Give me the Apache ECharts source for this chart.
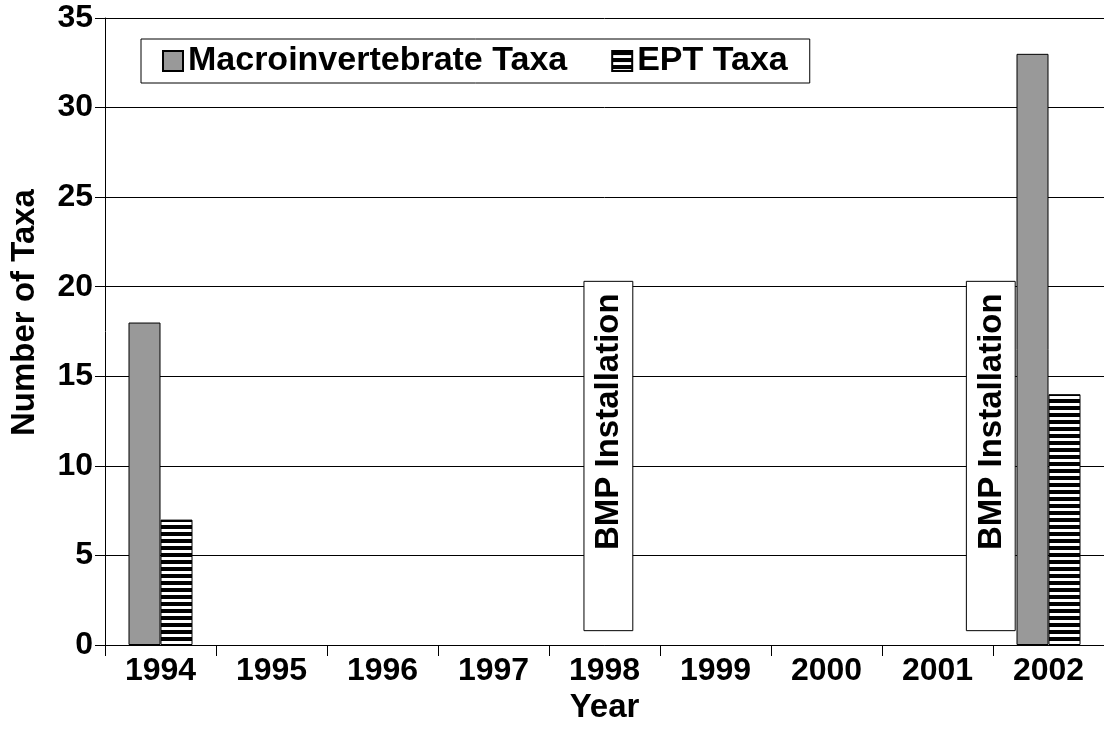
<!DOCTYPE html>
<html>
<head>
<meta charset="utf-8">
<script src="https://cdn.jsdelivr.net/npm/echarts@6/dist/echarts.min.js"></script>
<style>
  html, body { margin: 0; padding: 0; background: #fff; }
  #chart { width: 1104px; height: 748px; }
</style>
</head>
<body>
<div id="chart"></div>
<script>
const years = ['1994', '1995', '1996', '1997', '1998', '1999', '2000', '2001', '2002']
const macroTaxa = [18, null, null, null, null, null, null, null, 33]
const eptTaxa = [7, null, null, null, null, null, null, null, 14]
const bmpYears = ['1998', '2002']
const bmpLow = [0.8, 0.8]
const bmpHigh = [20.3, 20.3]

const FONT = '"Liberation Sans", Arial, sans-serif'

// horizontal stripes for the EPT bars
function stripes() {
  const c = document.createElement('canvas')
  c.width = 8
  c.height = 7
  const ctx = c.getContext('2d')
  ctx.fillStyle = '#fff'
  ctx.fillRect(0, 0, 8, 7)
  ctx.fillStyle = '#000'
  ctx.fillRect(0, 0, 8, 4)
  return c
}

// where the text boxes sit relative to their category, in band widths
const boxShift = [0.035, -0.52]

function renderBox(params, api) {
  const idx = api.value(0)
  const band = api.size([1, 0])[0]
  const top = api.coord([idx, api.value(2)])
  const bottom = api.coord([idx, api.value(1)])
  const w = band * 0.44
  const cx = top[0] + boxShift[params.dataIndex] * band
  return {
    type: 'group',
    children: [
      {
        type: 'rect',
        shape: { x: cx - w / 2, y: top[1], width: w, height: bottom[1] - top[1] },
        style: { fill: '#fff', stroke: '#000', lineWidth: 1 },
      },
      {
        type: 'text',
        x: cx + 1,
        y: top[1] + 12,
        rotation: Math.PI / 2,
        style: {
          text: 'BMP Installation',
          fill: '#000',
          font: 'bold 33px ' + FONT,
          align: 'right',
          verticalAlign: 'middle',
        },
      },
    ],
  }
}

const chart = echarts.init(document.getElementById('chart'), null, { renderer: 'canvas' })

chart.setOption({
  animation: false,
  textStyle: { fontFamily: FONT },
  grid: { left: 103, right: -3, top: 18, bottom: 103 },
  legend: {
    data: ['Macroinvertebrate Taxa', 'EPT Taxa'],
    left: 141,
    top: 39,
    padding: [5, 22, 5, 21],
    itemGap: 44,
    itemWidth: 20,
    itemHeight: 20,
    icon: 'rect',
    borderColor: '#000',
    borderWidth: 1,
    textStyle: { fontSize: 34, fontWeight: 'bold', color: '#000', fontFamily: FONT, lineHeight: 34 },
  },
  xAxis: {
    type: 'category',
    data: years,
    name: 'Year',
    nameLocation: 'middle',
    nameGap: 36,
    nameTextStyle: { fontSize: 33, fontWeight: 'bold', color: '#000' },
    axisLine: { lineStyle: { color: '#000', width: 1 } },
    axisTick: { show: true, length: 11, lineStyle: { color: '#000' } },
    axisLabel: { fontSize: 32, fontWeight: 'bold', color: '#000', margin: 10 },
  },
  yAxis: {
    type: 'value',
    min: 0,
    max: 35,
    interval: 5,
    name: 'Number of Taxa',
    nameLocation: 'middle',
    nameGap: 64,
    nameTextStyle: { fontSize: 33, fontWeight: 'bold', color: '#000', padding: [0, 0, 0, 38] },
    axisLine: { show: true, lineStyle: { color: '#000', width: 1 } },
    axisTick: { show: true, length: 10, lineStyle: { color: '#000' } },
    axisLabel: { fontSize: 32, fontWeight: 'bold', color: '#000', margin: 12 },
    splitLine: { lineStyle: { color: '#000', width: 1 } },
  },
  series: [
    {
      name: 'Macroinvertebrate Taxa',
      type: 'bar',
      data: macroTaxa,
      barWidth: 32,
      barGap: '0%',
      itemStyle: { color: '#999999', borderColor: '#000', borderWidth: 1 },
    },
    {
      name: 'EPT Taxa',
      type: 'bar',
      data: eptTaxa,
      barWidth: 32,
      barGap: '0%',
      itemStyle: { color: { image: stripes(), repeat: 'repeat' }, borderColor: '#000', borderWidth: 1 },
    },
    {
      type: 'custom',
      renderItem: renderBox,
      data: bmpYears.map((y, i) => [y, bmpLow[i], bmpHigh[i]]),
      z: 5,
    },
  ],
})
</script>
</body>
</html>
